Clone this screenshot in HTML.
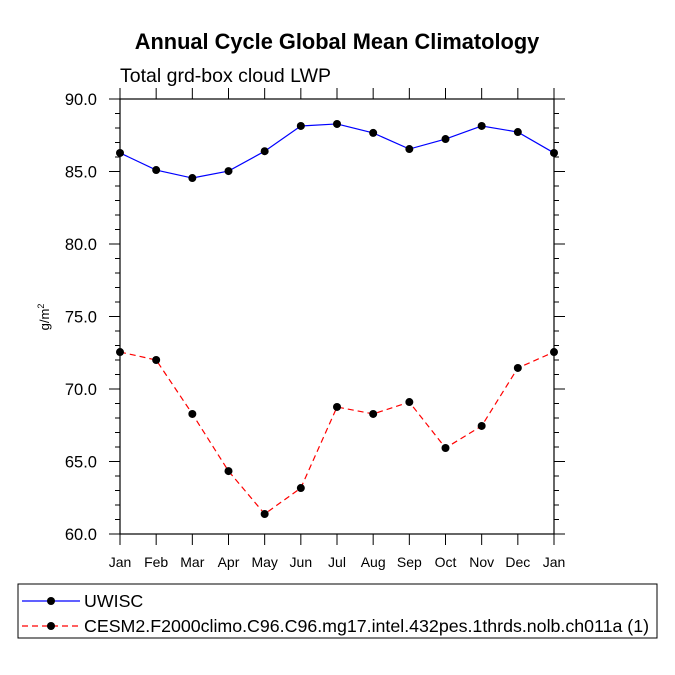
<!DOCTYPE html>
<html><head><meta charset="utf-8"><style>body{margin:0;background:#fff}svg{display:block;font-family:"Liberation Sans",sans-serif}</style></head>
<body>
<svg id="chart" width="675" height="675" viewBox="0 0 675 675">
<text x="337" y="49" text-anchor="middle" font-size="21.8" font-weight="bold">Annual Cycle Global Mean Climatology</text>
<text x="120" y="82" font-size="19.5">Total grd-box cloud LWP</text>
<text transform="translate(49,317) rotate(-90)" text-anchor="middle" font-size="13">g/m<tspan dy="-5" font-size="9">2</tspan></text>
<g id="axes"></g>
<g id="series"></g>
<g>
<rect x="18" y="584" width="639" height="54" fill="none" stroke="#000" stroke-width="1"/>
<line x1="22" y1="601" x2="80" y2="601" stroke="#00f" stroke-width="1.2"/>
<circle cx="51" cy="601" r="4" fill="#000"/>
<text x="84" y="607" font-size="17.8">UWISC</text>
<line x1="22" y1="626" x2="80" y2="626" stroke="#f00" stroke-width="1.2" stroke-dasharray="6,4"/>
<circle cx="51" cy="626" r="4" fill="#000"/>
<text x="84" y="632" font-size="17.8">CESM2.F2000climo.C96.C96.mg17.intel.432pes.1thrds.nolb.ch011a (1)</text>
</g>
</svg>
<script>
const months=["Jan","Feb","Mar","Apr","May","Jun","Jul","Aug","Sep","Oct","Nov","Dec","Jan"];
const uwisc=[86.28,85.1,84.55,85.03,86.4,88.14,88.28,87.66,86.55,87.24,88.14,87.72,86.28];
const cesm=[72.55,72.0,68.28,64.34,61.38,63.17,68.76,68.28,69.1,65.93,67.45,71.45,72.55];
const yTicks=[60,65,70,75,80,85,90];
const yTickLabels=["60.0","65.0","70.0","75.0","80.0","85.0","90.0"];
const X0=120,X1=554,Y0=534,Y1=99,YMIN=60,YMAX=90;
const NS="http://www.w3.org/2000/svg";
function xs(i){return X0+(X1-X0)*i/(months.length-1);}
function ys(v){return Y0-(v-YMIN)/(YMAX-YMIN)*(Y0-Y1);}
function mk(tag,attrs,parent){const e=document.createElementNS(NS,tag);for(const k in attrs)e.setAttribute(k,attrs[k]);parent.appendChild(e);return e;}
const ax=document.getElementById('axes');
const frame=mk('rect',{x:X0,y:Y1,width:X1-X0,height:Y0-Y1,fill:'none',stroke:'#000','stroke-width':1.2},ax);


for(let v=YMIN;v<=YMAX;v++){
  const major=v%5===0,L=major?11:5,y=ys(v);
  mk('line',{x1:X0-L,y1:y,x2:X0,y2:y,stroke:'#000'},ax);
  mk('line',{x1:X1,y1:y,x2:X1+L,y2:y,stroke:'#000'},ax);
}
yTicks.forEach((v,i)=>{
  const t=mk('text',{x:97,y:ys(v)+6,'text-anchor':'end','font-size':16.5},ax);
  t.textContent=yTickLabels[i];
  
  
});
months.forEach((m,i)=>{
  const x=xs(i);
  mk('line',{x1:x,y1:Y1-11,x2:x,y2:Y1,stroke:'#000'},ax);
  mk('line',{x1:x,y1:Y0,x2:x,y2:Y0+11,stroke:'#000'},ax);
  const t=mk('text',{x:x,y:567,'text-anchor':'middle','font-size':14},ax);
  t.textContent=m;
  
  
});
const sg=document.getElementById('series');
function draw(vals,color,dash,name){
  const p=mk('polyline',{points:vals.map((v,i)=>xs(i)+','+ys(v)).join(' '),fill:'none',stroke:color,'stroke-width':1.2,'stroke-dasharray':dash},sg);
  
  
  vals.forEach((v,i)=>{
    const c=mk('circle',{cx:xs(i),cy:ys(v),r:4,fill:'#000'},sg);
    
    
  });
}
draw(uwisc,'#00f','none','uwisc');
draw(cesm,'#f00','6,4','cesm');
</script>
</body></html>
